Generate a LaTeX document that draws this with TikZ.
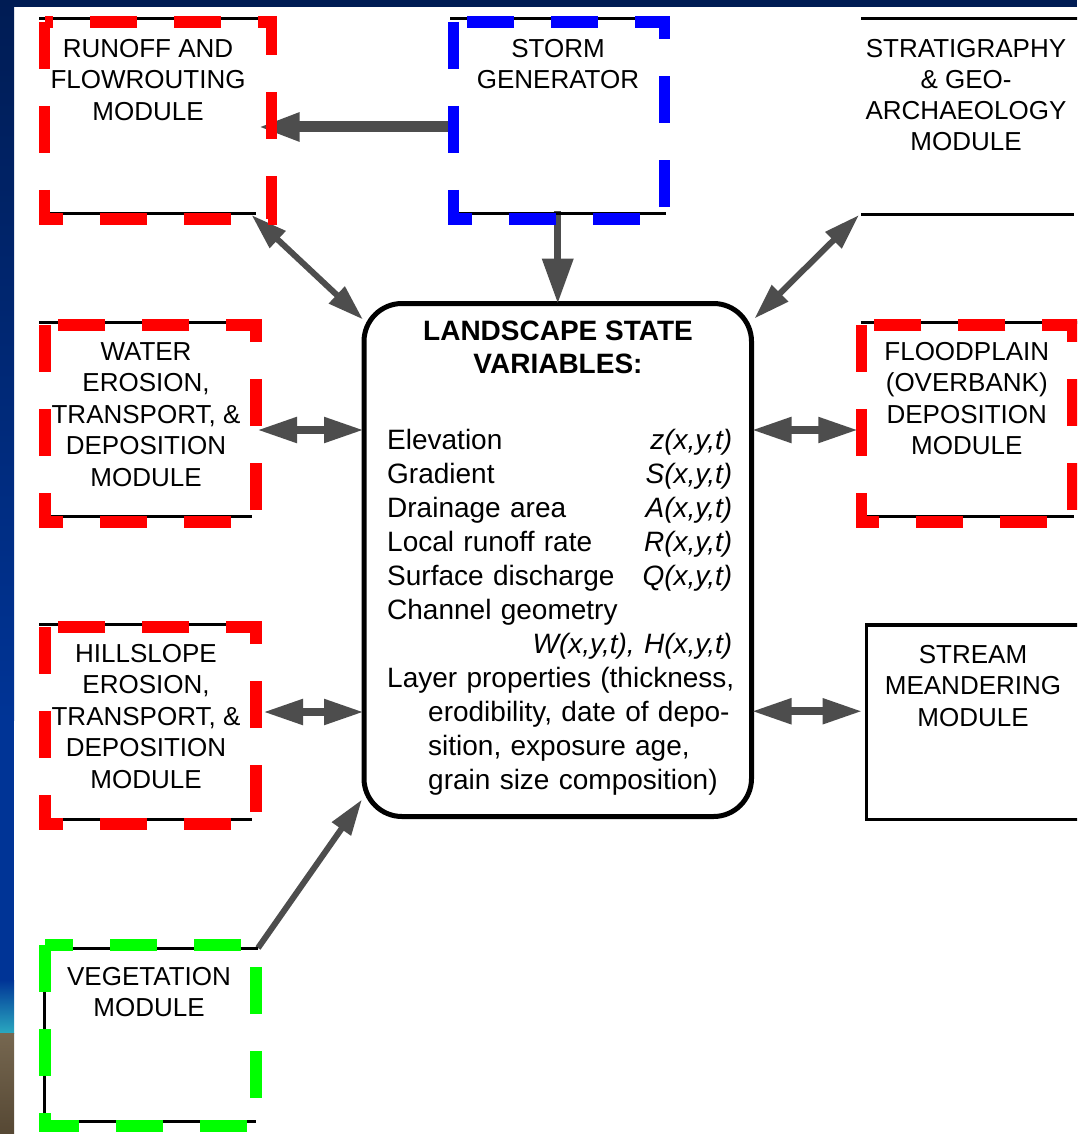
\documentclass[tikz,border=0pt]{standalone}
\usepackage{fontspec}
\setmainfont{Liberation Sans}
\usetikzlibrary{arrows.meta,calc}
\definecolor{navy}{RGB}{0,28,84}
\definecolor{midblue}{RGB}{0,52,150}
\definecolor{tealc}{RGB}{42,168,192}
\definecolor{brownA}{RGB}{118,103,80}
\definecolor{brownB}{RGB}{86,72,52}
\definecolor{arrgray}{RGB}{77,77,77}
\definecolor{dred}{RGB}{255,0,0}
\definecolor{dblue}{RGB}{0,0,255}
\definecolor{dgreen}{RGB}{0,255,0}
\begin{document}
\begin{tikzpicture}[x=1pt,y=-1pt,
  box/.style={rectangle, inner sep=0pt, outer sep=0pt, minimum width=211pt, minimum height=197pt},
  modtext/.style={anchor=north, inner sep=0pt, align=center, font=\fontsize{26pt}{31.5pt}\selectfont},
  frame/.style={line width=11.5pt, dash pattern=on 47pt off 37pt},
  rim/.style={line width=3pt, black},
  thickarr/.style={arrgray, line width=11pt, -{Triangle[length=42pt,width=26pt]}},
  midarr/.style={arrgray, line width=7pt, -{Triangle[length=45pt,width=30pt]}},
  darr/.style={arrgray, line width=8pt, {Triangle[length=40pt,width=24pt]}-{Triangle[length=40pt,width=24pt]}},
  diagarr/.style={arrgray, line width=6pt, {Triangle[length=36pt,width=22pt]}-{Triangle[length=36pt,width=22pt]}},
  vegarr/.style={arrgray, line width=6pt, -{Triangle[length=36pt,width=22pt]}},
]
\useasboundingbox (0,0) rectangle (1077,1134);
\clip (0,0) rectangle (1077,1134);
% background
\fill[white] (0,0) rectangle (1077,1134);
\shade[top color=navy, bottom color=midblue] (0,0) rectangle (14,720);
\fill[midblue] (0,719) rectangle (14,981);
\shade[top color=midblue, bottom color=tealc] (0,980) rectangle (14,1033);
\shade[top color=brownA, bottom color=brownB] (0,1033) rectangle (14,1134);
\fill[navy] (0,0) rectangle (1077,7);

% box nodes
\node[box, minimum width=227pt] (runoff) at (158,120.5) {};
\node[box] (storm) at (559,120.5) {};
\node[box, minimum height=195pt] (strat) at (966.5,116.5) {};
\node[box] (water) at (150.5,423.5) {};
\node[box] (flood) at (966.75,423.5) {};
\node[box] (hill) at (150.5,725.5) {};
\node[box, minimum width=215pt, minimum height=194.5pt] (stream) at (974,722.25) {};
\node[box, minimum height=181pt] (veg) at (150.5,1035.5) {};
\node[draw, line width=5pt, rounded corners=38pt, minimum width=387.5pt, minimum height=513pt, inner sep=0pt, outer sep=0pt] (central) at (557.75,560) {};

% connectors
\coordinate (wa) at ($(water.east)+(1,6.5)$);
\coordinate (fa) at ($(flood.west)+(-3,6.5)$);
\coordinate (ha) at ($(hill.east)+(7,-13.5)$);
\coordinate (sa) at ($(stream.west)+(-4,-11)$);
\draw[thickarr] ($(storm.west)+(-6,6.5)$) -- ($(runoff.east)+(-14,6.5)$);
\draw[midarr] ($(storm.south)+(-1.25,-8)$) -- (central.north);
\draw[diagarr] ($(runoff.south east)+(-20,-4)$) -- ($(central.north west)+(-1,16)$);
\draw[diagarr] ($(strat.south west)+(-2,1)$) -- ($(central.north east)+(3,15)$);
\draw[darr] (wa) -- (central.west |- wa);
\draw[darr] (central.east |- fa) -- (fa);
\draw[darr] (ha) -- (central.west |- ha);
\draw[darr] (central.east |- sa) -- (sa);
\draw[vegarr] ($(veg.north east)+(2,3)$) -- ($(central.south west)+(-2,-17)$);

% black rims
\draw[rim] ($(runoff.north west)+(-5.5,-3)$) -- ($(runoff.north east)+(4.5,-3)$);
\draw[rim] ($(runoff.south west)+(5.5,-6)$) -- ($(runoff.south east)+(-15.5,-6)$);
\draw[rim] ($(storm.north west)+(-3.5,-3)$) -- ($(storm.north east)+(5.5,-3)$);
\draw[rim] ($(storm.south west)+(5.5,-6)$) -- ($(storm.south east)+(1.5,-6)$);
\draw[rim] (strat.north west) -- ($(strat.north east)+(12,0)$);
\draw[rim] (strat.south west) -- ($(strat.south east)+(2,0)$);
\draw[rim] ($(water.north west)+(-6,-3)$) -- ($(water.north east)+(6,-3)$);
\draw[rim] ($(water.south west)+(5,-5.5)$) -- ($(water.south east)+(-4,-5.5)$);
\draw[rim] ($(hill.north west)+(-6,-3)$) -- ($(hill.north east)+(6,-3)$);
\draw[rim] ($(hill.south west)+(5,-4.5)$) -- ($(hill.south east)+(-4,-4.5)$);
\draw[rim] ($(flood.north west)+(-0.5,-3)$) -- ($(flood.north east)+(12,-3)$);
\draw[rim] ($(flood.south west)+(5.5,-5.5)$) -- ($(flood.south east)+(2,-5.5)$);
\draw[rim] ($(veg.north east)+(2,3.5)$) -- ($(veg.north west)+(-1,3.5)$) -- ($(veg.south west)+(-1,-4.5)$) -- ($(veg.south east)+(0,-4.5)$);
\draw[line width=3.5pt] (stream.north east) -- (stream.north west) -- (stream.south west) -- (stream.south east);

% coloured dashed frames
\draw[frame, dred] (runoff.north west) -- (runoff.south west) -- (runoff.south east) -- (runoff.north east) -- cycle;
\draw[frame, dblue] (storm.north west) -- (storm.south west) -- (storm.south east) -- (storm.north east) -- cycle;
\draw[frame, dred] (water.north west) -- (water.south west) -- (water.south east) -- (water.north east) -- cycle;
\draw[frame, dred] (hill.north west) -- (hill.south west) -- (hill.south east) -- (hill.north east) -- cycle;
\draw[frame, dred] (flood.north west) -- (flood.south west) -- (flood.south east) -- (flood.north east) -- cycle;
\draw[frame, dgreen] (veg.north west) -- (veg.south west) -- (veg.south east) -- (veg.north east) -- cycle;

% texts
\node[modtext] (runofft) at ($(runoff.north)+(-10,17)$) {RUNOFF AND\\FLOWROUTING\\MODULE};
\node[modtext] (stormt) at ($(storm.north)+(-1,17)$) {STORM\\GENERATOR};
\node[modtext, font=\fontsize{26pt}{31pt}\selectfont] (stratt) at ($(strat.north)+(-0.5,20)$) {STRATIGRAPHY\\\& GEO-\\ARCHAEOLOGY\\MODULE};
\node[modtext] (watert) at ($(water.north)+(-4.5,17)$) {WATER\\EROSION,\\TRANSPORT, \&\\DEPOSITION\\MODULE};
\node[modtext] (hillt) at ($(hill.north)+(-4.5,17)$) {HILLSLOPE\\EROSION,\\TRANSPORT, \&\\DEPOSITION\\MODULE};
\node[modtext] (floodt) at ($(flood.north)+(0,17)$) {FLOODPLAIN\\(OVERBANK)\\DEPOSITION\\MODULE};
\node[modtext] (streamt) at ($(stream.north)+(-1,20)$) {STREAM\\MEANDERING\\MODULE};
\node[modtext] (vegt) at ($(veg.north)+(-1.5,22)$) {VEGETATION\\MODULE};

\node[anchor=north, inner sep=0pt, align=center, font=\bfseries\fontsize{28pt}{33pt}\selectfont] (title) at ($(central.north)+(0.25,17.5)$) {LANDSCAPE STATE\\VARIABLES:};
\node[anchor=north west, inner sep=0pt, text width=345pt, align=left, font=\fontsize{28pt}{34pt}\selectfont] (vars) at ($(central.north west)+(23,126)$) {%
Elevation\hfill\textit{z(x,y,t)}\\
Gradient\hfill\textit{S(x,y,t)}\\
Drainage area\hfill\textit{A(x,y,t)}\\
Local runoff rate\hfill\textit{R(x,y,t)}\\
Surface discharge\hfill\textit{Q(x,y,t)}\\
Channel geometry\\
\mbox{}\hfill\textit{W(x,y,t), H(x,y,t)}\\
\makebox[345pt][l]{Layer properties (thickness,}\\
\hspace*{41pt}\mbox{erodibility, date of depo-}\\
\hspace*{41pt}\mbox{sition, exposure age,}\\
\hspace*{41pt}\mbox{grain size composition)}};
\end{tikzpicture}
\end{document}
